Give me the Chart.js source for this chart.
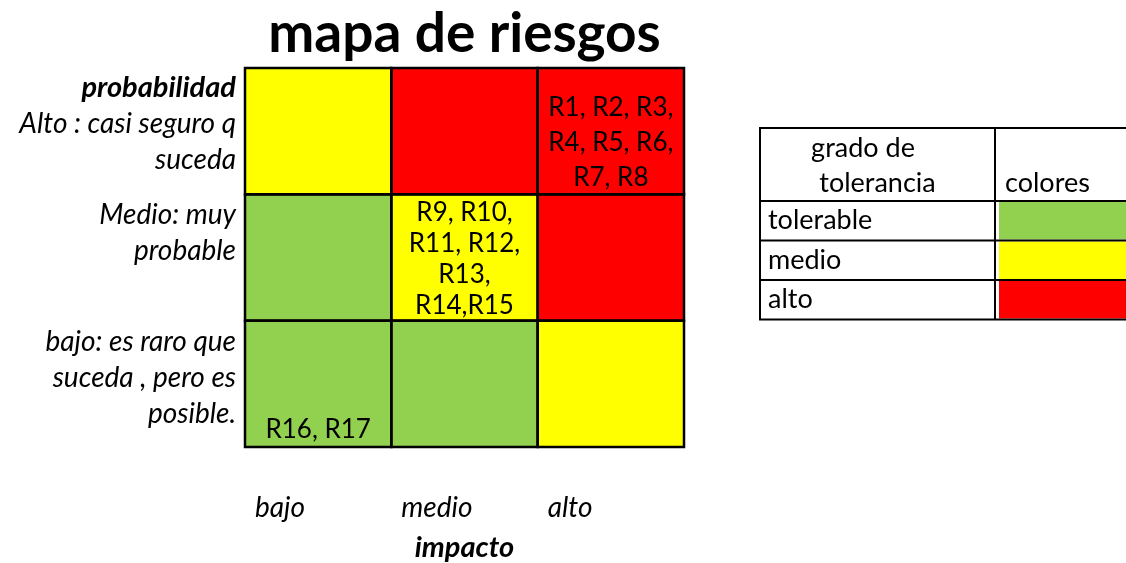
<!DOCTYPE html>
<html>
<head>
<meta charset="utf-8">
<script src="https://cdn.jsdelivr.net/npm/chart.js@4.4.0/dist/chart.umd.min.js"></script>
<style>
html, body { margin: 0; padding: 0; background: #fff; }
#wrap { width: 1126px; height: 563px; }
</style>
</head>
<body>
<div id="wrap"><canvas id="mapa"></canvas></div>
<script>
const titulo = 'mapa de riesgos'
const impacto = ['bajo', 'medio', 'alto']
const probabilidad = ['Alto', 'Medio', 'bajo']
const probLabels = [
  ['Alto : casi seguro q', 'suceda'],
  ['Medio: muy', 'probable'],
  ['bajo: es raro que', 'suceda , pero es', 'posible.']
]
// nivel de cada celda: fila = probabilidad, columna = impacto
const niveles = [
  ['medio', 'alto', 'alto'],
  ['tolerable', 'medio', 'alto'],
  ['tolerable', 'tolerable', 'medio']
]
const riesgos = [
  [[], [], ['R1, R2, R3,', 'R4, R5, R6,', 'R7, R8']],
  [[], ['R9, R10,', 'R11, R12,', 'R13,', 'R14,R15'], []],
  [['R16, R17'], [], []]
]
const gradoNombres = ['tolerable', 'medio', 'alto']
const gradoColores = ['#92D050', '#FFFF00', '#FF0000']

const FONT = 'Lato, "Open Sans", sans-serif'

function colorDe(nivel) {
  return gradoColores[gradoNombres.indexOf(nivel)]
}

const datasets = impacto.map((imp, c) => ({
  label: imp,
  data: probabilidad.map(() => 1),
  backgroundColor: niveles.map(fila => colorDe(fila[c])),
  borderWidth: 0,
  barPercentage: 1,
  categoryPercentage: 1,
  stack: 'mapa'
}))

// textos, bordes y tabla de colores
const mapaPlugin = {
  id: 'mapaPlugin',
  afterDatasetsDraw(chart) {
    const ctx = chart.ctx
    const area = chart.chartArea
    ctx.save()

    // bordes de celdas + textos de riesgos
    const metas = chart.data.datasets.map((d, i) => chart.getDatasetMeta(i))
    metas.forEach((meta, c) => {
      meta.data.forEach((bar, r) => {
        const p = bar.getProps(['x', 'y', 'base', 'height'], true)
        const left = Math.min(p.x, p.base)
        const right = Math.max(p.x, p.base)
        const top = p.y - p.height / 2
        const bottom = p.y + p.height / 2
        ctx.strokeStyle = '#000'
        ctx.lineWidth = 2.5
        ctx.strokeRect(left, top, right - left, bottom - top)

        const lineas = riesgos[r][c]
        const paso = lineas.length > 3 ? 31 : 35
        const abajo = lineas.length > 3 ? 15 : 17
        ctx.fillStyle = '#000'
        ctx.font = '26px ' + FONT
        ctx.textAlign = 'center'
        ctx.textBaseline = 'middle'
        lineas.forEach((t, k) => {
          const yy = bottom - abajo - (lineas.length - 1 - k) * paso
          ctx.fillText(t, (left + right) / 2, yy)
        })
      })
    })

    // etiquetas de probabilidad (izquierda)
    const yScale = chart.scales.y
    const half = (yScale.getPixelForValue(1) - yScale.getPixelForValue(0)) / 2
    ctx.textAlign = 'right'
    ctx.textBaseline = 'middle'
    ctx.fillStyle = '#000'
    ctx.font = 'italic bold 29px ' + FONT
    ctx.fillText('probabilidad', area.left - 9, yScale.getPixelForValue(0) - half + 20)
    probLabels.forEach((lineas, r) => {
      const top = yScale.getPixelForValue(r) - half
      const inicio = r === 0 ? top + 56 : top + 21
      ctx.font = 'italic 28px ' + FONT
      lineas.forEach((t, k) => {
        ctx.fillText(t, area.left - 9, inicio + k * 36)
      })
    })

    // etiquetas de impacto (abajo)
    const xScale = chart.scales.x
    ctx.textAlign = 'left'
    ctx.font = 'italic 28px ' + FONT
    impacto.forEach((t, c) => {
      ctx.fillText(t, xScale.getPixelForValue(c) + 10, 508)
    })
    ctx.textAlign = 'center'
    ctx.font = 'italic bold 29px ' + FONT
    ctx.fillText('impacto', (area.left + area.right) / 2, 548)

    // titulo
    ctx.font = 'bold 55px ' + FONT
    ctx.fillText(titulo, (area.left + area.right) / 2, 34)

    // tabla grado de tolerancia
    const tx = 760, tx2 = 995, tx3 = 1130
    const ty = 128, ty1 = 201, fila = 39.5
    ctx.lineWidth = 2
    ctx.strokeStyle = '#000'
    ctx.font = '27px ' + FONT
    gradoNombres.forEach((n, i) => {
      const y0 = ty1 + i * fila
      ctx.fillStyle = gradoColores[i]
      ctx.fillRect(tx2 + 4, y0 + 1, tx3 - tx2, fila - 2)
      ctx.fillStyle = '#000'
      ctx.textAlign = 'left'
      ctx.fillText(n, 768, y0 + fila / 2)
    })
    ctx.beginPath()
    ctx.rect(tx, ty, tx3 - tx, ty1 + 3 * fila - ty)
    ctx.moveTo(tx2, ty); ctx.lineTo(tx2, ty1 + 3 * fila)
    for (let i = 0; i < 3; i++) {
      ctx.moveTo(tx, ty1 + i * fila); ctx.lineTo(tx3, ty1 + i * fila)
    }
    ctx.stroke()
    ctx.textAlign = 'center'
    ctx.fillText('grado de', 863, 148)
    ctx.fillText('tolerancia', (tx + tx2) / 2, 183)
    ctx.textAlign = 'left'
    ctx.fillText('colores', 1005, 183)

    ctx.restore()
  }
}

new Chart(document.getElementById('mapa'), {
  type: 'bar',
  data: {
    labels: probabilidad,
    datasets: datasets
  },
  options: {
    indexAxis: 'y',
    responsive: true,
    maintainAspectRatio: false,
    animation: false,
    layout: {
      padding: { left: 245, right: 442, top: 68, bottom: 116 }
    },
    scales: {
      x: { stacked: true, min: 0, max: 3, display: false },
      y: { stacked: true, display: false }
    },
    plugins: {
      legend: { display: false },
      title: { display: false },
      tooltip: { enabled: false }
    }
  },
  plugins: [mapaPlugin]
})
</script>
</body>
</html>
